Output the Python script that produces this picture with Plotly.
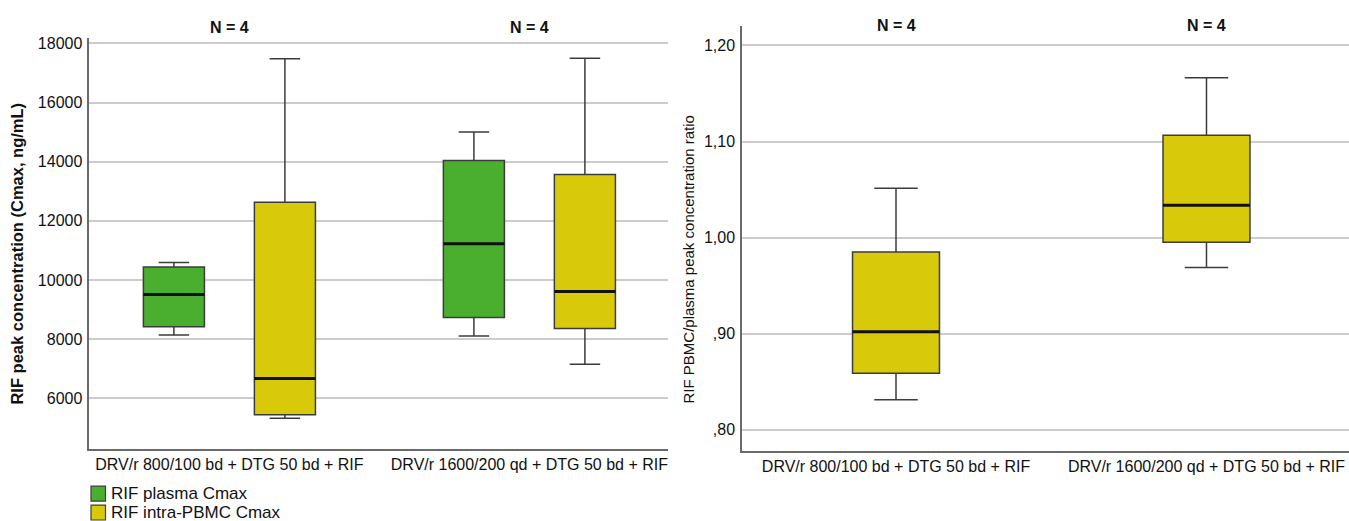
import plotly.graph_objects as go

# ---------------- data ----------------
categories = ["DRV/r 800/100 bd + DTG 50 bd + RIF", "DRV/r 1600/200 qd + DTG 50 bd + RIF"]

plasma_low = [8141, 8108]
plasma_q1 = [8424, 8737]
plasma_median = [9512, 11229]
plasma_q3 = [10444, 14040]
plasma_high = [10589, 15003]

pbmc_low = [5327, 7152]
pbmc_q1 = [5441, 8357]
pbmc_median = [6673, 9613]
pbmc_q3 = [12626, 13569]
pbmc_high = [17485, 17495]

ratio_low = [0.8314, 0.969]
ratio_q1 = [0.859, 0.9952]
ratio_median = [0.902, 1.0338]
ratio_q3 = [0.9852, 1.1066]
ratio_high = [1.0514, 1.1663]

n_labels = ["N = 4", "N = 4"]

left_tickvals = [6000, 8000, 10000, 12000, 14000, 16000, 18000]
left_ticktext = ["6000", "8000", "10000", "12000", "14000", "16000", "18000"]
right_tickvals = [0.80, 0.90, 1.00, 1.10, 1.20]
right_ticktext = [",80", ",90", "1,00", "1,10", "1,20"]

legend_names = ["RIF plasma Cmax", "RIF intra-PBMC Cmax"]
left_ytitle = "RIF peak concentration (Cmax, ng/mL)"
right_ytitle = "RIF PBMC/plasma peak concentration ratio"

# ---------------- style ----------------
W, H = 1349, 521
GREEN = "#4aae2f"
YELLOW = "#d8ca0b"
OUTLINE = "#3c3c3c"
GRID = "#cccccc"
AXIS = "#6a6a6a"
FONT = "Liberation Sans, Arial, sans-serif"


def px(x):
    return x / W


def py(y):
    return 1 - y / H


fig = go.Figure()


def add_box(name, xaxis, yaxis, low, q1, med, q3, high, color, agroup, ogroup, width=None):
    common = dict(x=categories, xaxis=xaxis, yaxis=yaxis, name=name,
                  alignmentgroup=agroup, offsetgroup=ogroup, showlegend=False,
                  boxpoints=False, hoverinfo="skip")
    if width is not None:
        common["width"] = width
    fig.add_trace(go.Box(q1=q1, median=med, q3=q3, lowerfence=low, upperfence=high,
                         fillcolor=color, line=dict(color=OUTLINE, width=1.5),
                         whiskerwidth=0.5, **common))
    # thick black median line overlaid on the box
    fig.add_trace(go.Box(q1=med, median=med, q3=med, lowerfence=med, upperfence=med,
                         fillcolor="rgba(0,0,0,0)", line=dict(color="#111111", width=3),
                         whiskerwidth=0, **common))


add_box(legend_names[0], "x", "y", plasma_low, plasma_q1, plasma_median, plasma_q3, plasma_high,
        GREEN, "L", "plasma")
add_box(legend_names[1], "x", "y", pbmc_low, pbmc_q1, pbmc_median, pbmc_q3, pbmc_high,
        YELLOW, "L", "pbmc")
add_box("ratio", "x2", "y2", ratio_low, ratio_q1, ratio_median, ratio_q3, ratio_high,
        YELLOW, "R", "ratio", width=0.28)

axis_common = dict(showline=True, linecolor=AXIS, linewidth=1.5, zeroline=False,
                   ticks="", tickfont=dict(family=FONT, size=16, color="#111111"))

fig.update_layout(
    width=W, height=H, autosize=False,
    margin=dict(l=0, r=0, t=0, b=0),
    paper_bgcolor="white", plot_bgcolor="white",
    boxmode="group", boxgap=0.26, boxgroupgap=0.45,
    showlegend=False,
    font=dict(family=FONT, color="#111111"),
    xaxis=dict(domain=[px(89.3), px(668)], type="category", range=[-0.467, 1.462],
               showgrid=False, anchor="y", ticklabelstandoff=0, **axis_common),
    yaxis=dict(domain=[py(448.3), py(35)], range=[4296, 18190], anchor="x",
               tickvals=left_tickvals, ticktext=left_ticktext,
               showgrid=True, gridcolor=GRID, gridwidth=2, ticklabelstandoff=2, **axis_common),
    xaxis2=dict(domain=[px(742), 1.0], type="category", range=[-0.496, 1.459],
                showgrid=False, anchor="y2", ticklabelstandoff=0, **axis_common),
    yaxis2=dict(domain=[py(450.7), py(22.7)], range=[0.7779, 1.2207], anchor="x2",
                tickvals=right_tickvals, ticktext=right_ticktext,
                showgrid=True, gridcolor=GRID, gridwidth=2, ticklabelstandoff=2, **axis_common),
)

annotations = []
for cat, lab in zip(categories, n_labels):
    annotations.append(dict(x=cat, xref="x", y=py(25), yref="paper", text="<b>" + lab + "</b>",
                            showarrow=False, font=dict(family=FONT, size=16, color="#111111"),
                            xanchor="center", yanchor="middle"))
    annotations.append(dict(x=cat, xref="x2", y=py(22.5), yref="paper", text="<b>" + lab + "</b>",
                            showarrow=False, font=dict(family=FONT, size=16, color="#111111"),
                            xanchor="center", yanchor="middle"))

annotations.append(dict(x=px(17), y=py(252), xref="paper", yref="paper",
                        text="<b>" + left_ytitle + "</b>", textangle=-90, showarrow=False,
                        font=dict(family=FONT, size=16.5, color="#111111"),
                        xanchor="center", yanchor="middle"))
annotations.append(dict(x=px(689), y=py(258), xref="paper", yref="paper",
                        text=right_ytitle, textangle=-90, showarrow=False,
                        font=dict(family=FONT, size=15, color="#111111"),
                        xanchor="center", yanchor="middle"))

# manual legend
legend_colors = [GREEN, YELLOW]
legend_rows = [493.5, 512.5]
shapes = []
for name, col, yc in zip(legend_names, legend_colors, legend_rows):
    shapes.append(dict(type="rect", xref="paper", yref="paper",
                       x0=px(91), x1=px(105.5), y0=py(yc + 7.5), y1=py(yc - 7.5),
                       fillcolor=col, line=dict(color=OUTLINE, width=1.2)))
    annotations.append(dict(x=px(108.5), y=py(yc), xref="paper", yref="paper", text=name,
                            showarrow=False, font=dict(family=FONT, size=17, color="#111111"),
                            xanchor="left", yanchor="middle"))

fig.update_layout(annotations=annotations, shapes=shapes)

fig.write_html("out.html", config={"displayModeBar": False},
               post_script="document.body.style.margin='0';document.body.style.overflow='hidden';")
